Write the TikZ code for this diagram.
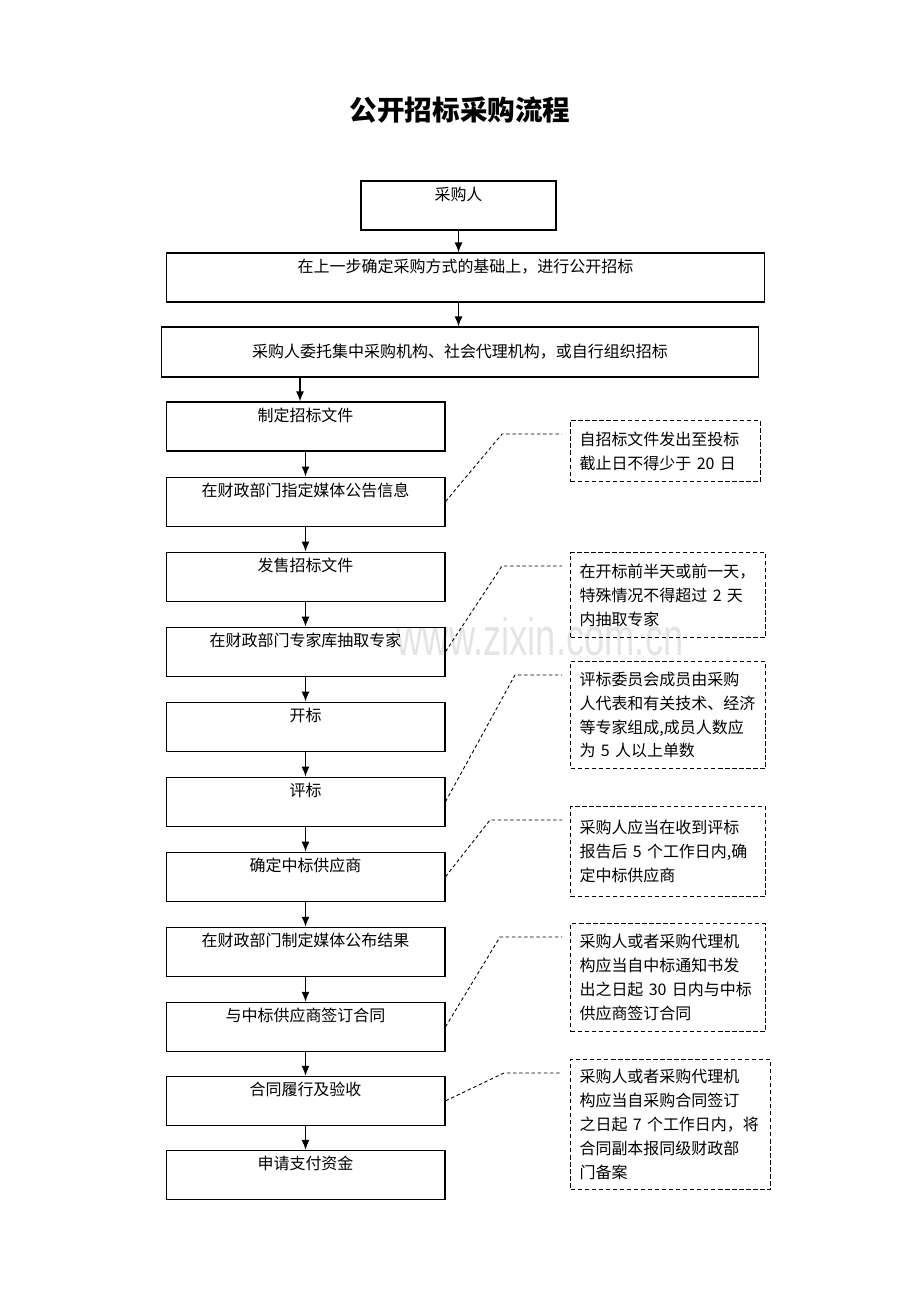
\documentclass[tikz,border=0pt]{standalone}
\usepackage{fontspec}
\setmainfont{Noto Sans CJK SC}
\newfontfamily\wmfont{Liberation Sans}
\usetikzlibrary{positioning}
\usetikzlibrary{arrows.meta}
\tikzset{stage/.style={draw, line width=0.6pt, minimum width=5.58cm, minimum height=0.98cm, inner sep=0pt, align=center}}
\definecolor{wmgray}{RGB}{228,228,228}

\begin{document}
\begin{tikzpicture}[x=0.02cm, y=-0.02cm,
    note/.style={draw, line width=0.6pt, dash pattern=on 2.5pt off 1.5pt, anchor=north west, align=left, text width=3.54cm, inner xsep=0.18cm, inner ysep=0pt},
    arrow/.style={-{Latex[length=2mm, width=1.6mm]}, line width=0.8pt},
    link/.style={line width=0.5pt, dash pattern=on 2pt off 1.5pt},
    font=\fontsize{9.1}{13.6}\selectfont,
]
    \useasboundingbox (0,0) rectangle (920,1302);

    \node[text=wmgray, anchor=base, font=\wmfont\fontsize{30}{30}\selectfont] (wm) at (540,655) {\scalebox{0.69}[1]{www.zixin.com.cn}};

    \node[font=\fontsize{15.7}{18}\selectfont\bfseries] (title) at (460,110) {公开招标采购流程};

    % top boxes
    \node[stage, minimum width=3.9cm] (buyer) at (458.5,205.5) {采购人\\~};
    \node[stage, minimum width=11.98cm] (tender) at (465.5,277.5) {在上一步确定采购方式的基础上，进行公开招标\\~};
    \node[stage, minimum width=11.96cm, minimum height=1cm] (agent) at (460,352) {采购人委托集中采购机构、社会代理机构，或自行组织招标};

    % left column
    \node[stage] (draft) at (305.5,426.5) {制定招标文件\\~};
    \node[stage, below=0.5cm of draft] (notice) {在财政部门指定媒体公告信息\\~};
    \node[stage, below=0.5cm of notice] (sell) {发售招标文件\\~};
    \node[stage, below=0.5cm of sell] (expert) {在财政部门专家库抽取专家\\~};
    \node[stage, below=0.5cm of expert] (opening) {开标\\~};
    \node[stage, below=0.5cm of opening] (review) {评标\\~};
    \node[stage, below=0.5cm of review] (award) {确定中标供应商\\~};
    \node[stage, below=0.5cm of award] (result) {在财政部门制定媒体公布结果\\~};
    \node[stage, below=0.5cm of result] (sign) {与中标供应商签订合同\\~};
    \node[stage, below=0.48cm of sign] (accept) {合同履行及验收\\~};
    \node[stage, below=0.48cm of accept] (pay) {申请支付资金\\~};

    \draw[arrow] (buyer.south) -- (buyer.south |- tender.north);
    \draw[arrow] (buyer.south |- tender.south) -- (buyer.south |- agent.north);
    \draw[arrow] ([xshift=-0.11cm]draft.north |- agent.south) -- ([xshift=-0.11cm]draft.north);
    \foreach \a/\b in {draft/notice, notice/sell, sell/expert, expert/opening, opening/review, review/award, award/result, result/sign, sign/accept, accept/pay}
        \draw[arrow] (\a.south) -- (\b.north);

    % side notes
    \node[note, text width=3.44cm, minimum height=1.22cm] (deadline) at (570,420) {自招标文件发出至投标\\截止日不得少于~20~日};
    \node[note, minimum height=1.7cm] (pick) at (570,552) {在开标前半天或前一天，\\特殊情况不得超过~2~天\\内抽取专家};
    \node[note, minimum height=2.14cm] (panel) at (570,661) {评标委员会成员由采购\\人代表和有关技术、经济\\等专家组成,成员人数应\\为~5~人以上单数};
    \node[note, minimum height=1.8cm] (confirm) at (570,806) {采购人应当在收到评标\\报告后~5~个工作日内,确\\定中标供应商};
    \node[note, minimum height=2.16cm] (contract) at (570,923) {采购人或者采购代理机\\构应当自中标通知书发\\出之日起~30~日内与中标\\供应商签订合同};
    \node[note, text width=3.64cm, minimum height=2.6cm] (filing) at (570,1059) {采购人或者采购代理机\\构应当自采购合同签订\\之日起~7~个工作日内，将\\合同副本报同级财政部\\门备案};

    \coordinate (k1) at (502,434);  \coordinate (e1) at (562,434);
    \coordinate (k2) at (502,566);  \coordinate (e2) at (562,566);
    \coordinate (k3) at (515,675);  \coordinate (e3) at (562,675);
    \coordinate (k4) at (490,820);  \coordinate (e4) at (562,820);
    \coordinate (k5) at (500,937);  \coordinate (e5) at (562,937);
    \coordinate (k6) at (504,1073); \coordinate (e6) at (562,1073);

    \draw[link] (notice.east) -- (k1) -- (e1);
    \draw[link] (expert.east) -- (k2) -- (e2);
    \draw[link] (review.east) -- (k3) -- (e3);
    \draw[link] (award.east) -- (k4) -- (e4);
    \draw[link] (sign.east) -- (k5) -- (e5);
    \draw[link] (accept.east) -- (k6) -- (e6);

\end{tikzpicture}
\end{document}
